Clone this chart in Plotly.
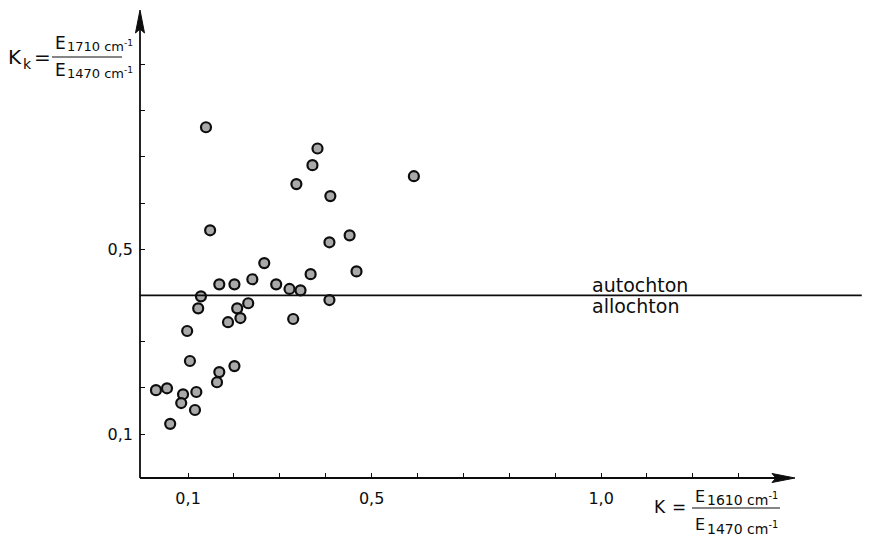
import plotly.graph_objects as go

# ---- data ----
k_values = [0.139, 0.148, 0.336, 0.371, 0.382, 0.410, 0.592, 0.408, 0.452, 0.467,
            0.367, 0.266, 0.240, 0.201, 0.168, 0.292, 0.321, 0.345, 0.128, 0.122,
            0.408, 0.207, 0.231, 0.187, 0.214, 0.329, 0.098, 0.104, 0.201, 0.168,
            0.163, 0.030, 0.054, 0.089, 0.118, 0.085, 0.115, 0.061]
kk_values = [0.764, 0.541, 0.641, 0.682, 0.718, 0.615, 0.658, 0.515, 0.530, 0.452,
             0.446, 0.470, 0.435, 0.424, 0.424, 0.424, 0.414, 0.411, 0.398, 0.372,
             0.390, 0.372, 0.383, 0.342, 0.351, 0.349, 0.323, 0.258, 0.247, 0.234,
             0.212, 0.195, 0.199, 0.186, 0.191, 0.167, 0.152, 0.122]
boundary_value = 0.40
x_tick_vals = [0.1, 0.2, 0.3, 0.4, 0.5, 0.6, 0.7, 0.8, 0.9, 1.0, 1.1, 1.2, 1.3]
x_tick_text = ["0,1", "", "", "", "0,5", "", "", "", "", "1,0", "", "", ""]
y_tick_vals = [0.1, 0.2, 0.3, 0.5, 0.6, 0.7, 0.8, 0.9]
y_tick_text = ["0,1", "", "", "0,5", "", "", "", ""]
label_above = "autochton"
label_below = "allochton"

# ---- layout geometry ----
OFF = 8                      # page body margin around the figure
W, H = 862, 530              # figure size (window 870x538 minus body margin)
L, R, T, B = 132, 5, 0, 60
PW, PH = W - L - R, H - T - B
XS, YS = 458.9, 462.0        # pixels per data unit
X_MIN, Y_MIN = -0.0048, 0.0048   # the drawn axes cross slightly off zero
X_MAX = X_MIN + PW / XS
Y_MAX = Y_MIN + PH / YS
INK = "#0d0d0d"
FONT = "DejaVu Sans"


def px(x):
    """screen pixel x -> paper x"""
    return (x - OFF - L) / PW


def py(y):
    """screen pixel y -> paper y"""
    return (H - B - (y - OFF)) / PH


fig = go.Figure()
fig.add_trace(go.Scatter(
    x=k_values, y=kk_values, mode="markers",
    marker=dict(size=10, color="#a9a9a9", line=dict(color=INK, width=2.2)),
    showlegend=False, hoverinfo="skip", cliponaxis=False,
))

AX0, AY0 = 140, 478          # axis origin on screen
XTIP, YTIP = 795, 10         # arrow tips on screen


def tri(points):
    return "M " + " L ".join(f"{px(a):.5f},{py(b):.5f}" for a, b in points) + " Z"


shapes = [
    # axes
    dict(type="line", xref="paper", yref="paper", x0=px(AX0), x1=px(XTIP - 10),
         y0=py(AY0), y1=py(AY0), line=dict(color=INK, width=1.8)),
    dict(type="line", xref="paper", yref="paper", x0=px(AX0), x1=px(AX0),
         y0=py(AY0), y1=py(YTIP + 10), line=dict(color=INK, width=1.8)),
    # arrow heads
    dict(type="path", xref="paper", yref="paper",
         path=tri([(XTIP, AY0), (XTIP - 23, AY0 - 4.5), (XTIP - 19, AY0), (XTIP - 23, AY0 + 4.5)]),
         fillcolor=INK, line=dict(color=INK, width=1)),
    dict(type="path", xref="paper", yref="paper",
         path=tri([(AX0, YTIP), (AX0 - 4.5, YTIP + 23), (AX0, YTIP + 19), (AX0 + 4.5, YTIP + 23)]),
         fillcolor=INK, line=dict(color=INK, width=1)),
    # boundary line
    dict(type="line", xref="x", yref="y", x0=X_MIN, x1=1.568, y0=boundary_value, y1=boundary_value,
         line=dict(color=INK, width=1.7)),
    # fraction bars
    dict(type="line", xref="paper", yref="paper", x0=px(52), x1=px(122), y0=py(57), y1=py(57),
         line=dict(color=INK, width=1.2)),
    dict(type="line", xref="paper", yref="paper", x0=px(692), x1=px(780), y0=py(508), y1=py(508),
         line=dict(color=INK, width=1.2)),
]


def txt(x, y, s, size, anchor="left"):
    return dict(x=px(x), y=py(y), xref="paper", yref="paper", text=s, showarrow=False,
                xanchor=anchor, yanchor="middle", font=dict(family=FONT, size=size, color=INK))


annotations = [
    # region labels
    txt(590, 285, label_above, 19),
    txt(590, 306, label_below, 19),
    # y axis title
    txt(6, 57, "K", 20),
    txt(21, 64, "k", 14),
    txt(32, 57, "=", 20),
    txt(53, 43, "E", 17),
    txt(65, 46, "1710 cm<sup>-1</sup>", 13),
    txt(53, 70, "E", 17),
    txt(65, 73, "1470 cm<sup>-1</sup>", 13),
    # x axis title
    txt(652, 507, "K", 17),
    txt(670, 507, "=", 17),
    txt(693, 496, "E", 16),
    txt(705, 499, "1610 cm<sup>-1</sup>", 14),
    txt(693, 524, "E", 16),
    txt(705, 528, "1470 cm<sup>-1</sup>", 14),
]

fig.update_layout(
    width=W, height=H,
    margin=dict(l=L, r=R, t=T, b=B, pad=0, autoexpand=False),
    paper_bgcolor="white", plot_bgcolor="white",
    font=dict(family=FONT, size=16, color=INK),
    shapes=shapes, annotations=annotations,
    xaxis=dict(range=[X_MIN, X_MAX], showgrid=False, zeroline=False, showline=False,
               tickmode="array", tickvals=x_tick_vals, ticktext=x_tick_text,
               ticks="inside", ticklen=5, tickwidth=1.4, tickcolor=INK,
               ticklabelstandoff=9, tickfont=dict(family=FONT, size=16, color=INK)),
    yaxis=dict(range=[Y_MIN, Y_MAX], showgrid=False, zeroline=False, showline=False,
               tickmode="array", tickvals=y_tick_vals, ticktext=y_tick_text,
               ticks="inside", ticklen=5, tickwidth=1.4, tickcolor=INK,
               ticklabelstandoff=6, tickfont=dict(family=FONT, size=16, color=INK)),
)

fig.write_html("out.html")
